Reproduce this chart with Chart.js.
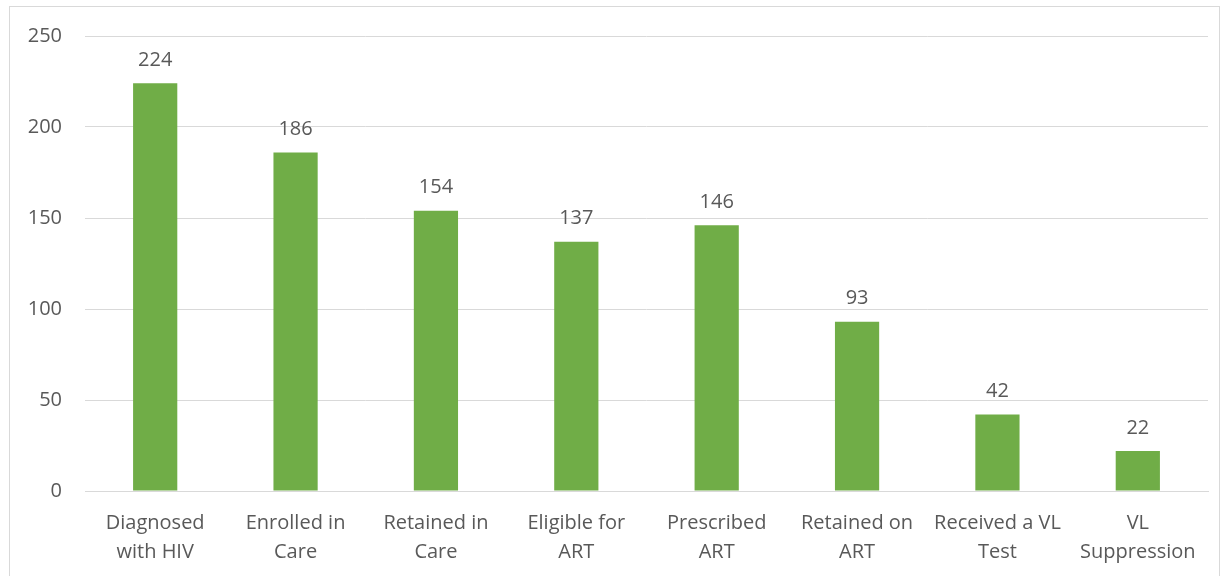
<!DOCTYPE html>
<html>
<head>
<meta charset="utf-8">
<script src="https://cdn.jsdelivr.net/npm/chart.js@4"></script>
<style>
  body { margin: 0; background: #fff; }
  #frame { position: absolute; left: 9px; top: 6px; width: 1209px; height: 600px; border: 1px solid #d9d9d9; }
  #wrap { position: absolute; left: 0; top: 0; width: 1228px; height: 576px; }
</style>
</head>
<body>
<div id="frame"></div>
<div id="wrap"><canvas id="funnelChart"></canvas></div>
<script>
const categories = [
    ['Diagnosed', 'with HIV'],
    ['Enrolled in', 'Care'],
    ['Retained in', 'Care'],
    ['Eligible for', 'ART'],
    ['Prescribed', 'ART'],
    ['Retained on', 'ART'],
    ['Received a VL', 'Test'],
    ['VL', 'Suppression']
];
const patientCounts = [224, 186, 154, 137, 146, 93, 42, 22];
const yTicks = [0, 50, 100, 150, 200, 250];

const textColor = '#595959';
const fontFamily = "'Open Sans', 'Noto Sans', sans-serif";

// draws the number above each bar
const valueLabels = {
    id: 'valueLabels',
    afterDatasetsDraw(chart) {
        const ctx = chart.ctx;
        const meta = chart.getDatasetMeta(0);
        ctx.save();
        ctx.fillStyle = textColor;
        ctx.font = '20px ' + fontFamily;
        ctx.textAlign = 'center';
        ctx.textBaseline = 'bottom';
        meta.data.forEach((bar, i) => {
            ctx.fillText(patientCounts[i], bar.x, bar.y - 13);
        });
        ctx.restore();
    }
};

new Chart(document.getElementById('funnelChart').getContext('2d'), {
    type: 'bar',
    data: {
        labels: categories,
        datasets: [{
            data: patientCounts,
            backgroundColor: '#70AD47',
            categoryPercentage: 1,
            barPercentage: 0.315
        }]
    },
    options: {
        responsive: true,
        maintainAspectRatio: false,
        animation: false,
        layout: { padding: { top: 36, right: 20, bottom: 0, left: 0 } },
        plugins: {
            legend: { display: false },
            tooltip: { enabled: false }
        },
        scales: {
            x: {
                grid: { display: false, drawTicks: false },
                border: { color: '#d9d9d9' },
                ticks: {
                    color: textColor,
                    font: { family: fontFamily, size: 20, lineHeight: 1.45 },
                    padding: 18,
                    maxRotation: 0,
                    autoSkip: false
                },
                afterFit(scale) { scale.height = 85; }
            },
            y: {
                min: 0,
                max: 250,
                afterBuildTicks(scale) { scale.ticks = yTicks.map(v => ({ value: v })); },
                grid: { color: '#d9d9d9', drawTicks: false },
                border: { display: false },
                ticks: {
                    color: textColor,
                    font: { family: fontFamily, size: 20 },
                    padding: 23
                },
                afterFit(scale) { scale.width = 85; }
            }
        }
    },
    plugins: [valueLabels]
});
</script>
</body>
</html>
